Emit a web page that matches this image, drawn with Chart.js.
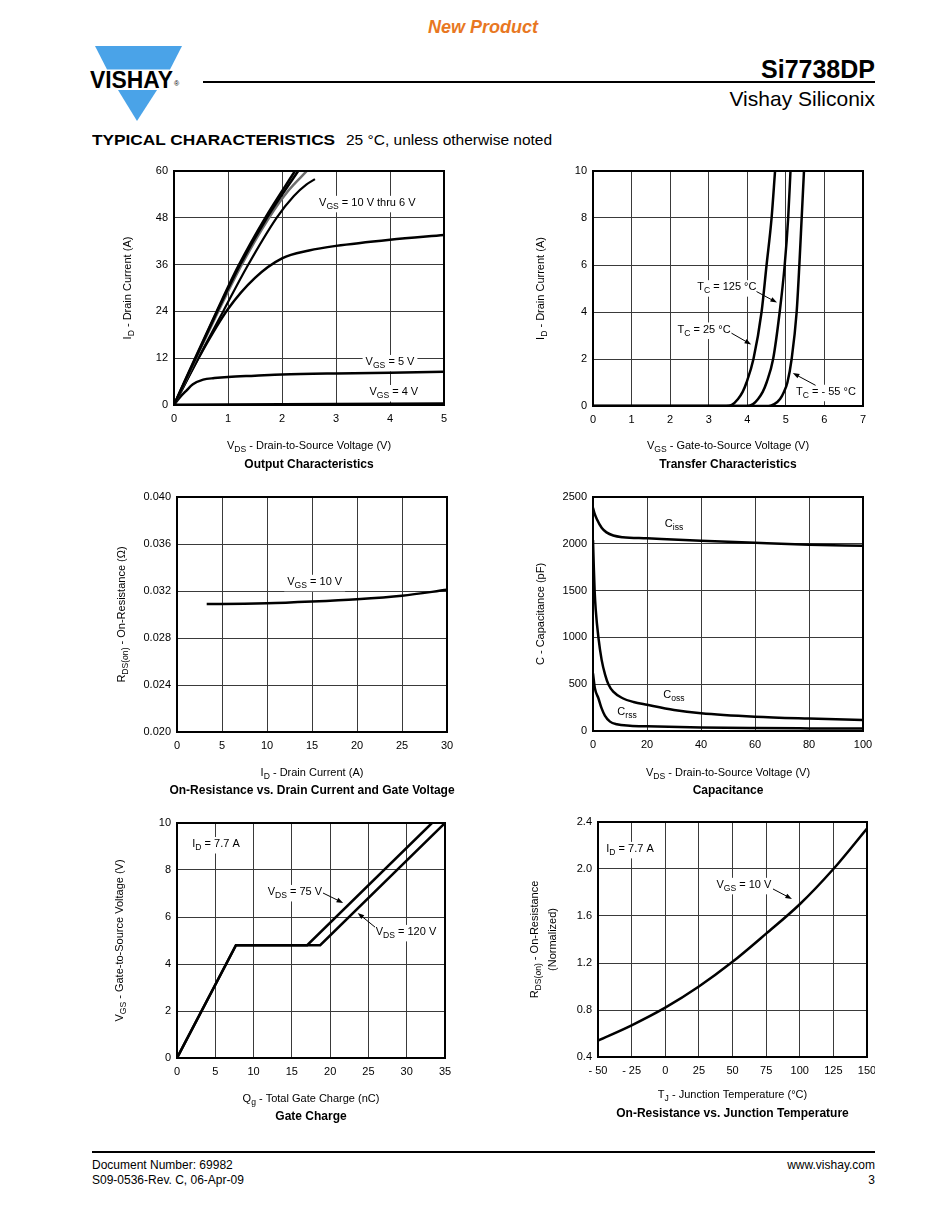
<!DOCTYPE html>
<html>
<head>
<meta charset="utf-8">
<script src="https://cdn.jsdelivr.net/npm/chart.js@4.4.1/dist/chart.umd.min.js"></script>
<style>
  body { margin: 0; background: #fff; }
  #page { position: relative; width: 950px; height: 1230px; overflow: hidden;
          font-family: 'Liberation Sans', Arial, sans-serif; color: #000; background: #fff; }
  .abs { position: absolute; white-space: nowrap; }
  canvas { position: absolute; }
</style>
</head>
<body>
<div id="page">
  <div class="abs" style="left:0;width:966px;top:16px;text-align:center;font-size:18px;font-weight:bold;font-style:italic;color:#e87722;line-height:22px">New Product</div>

  <svg class="abs" style="left:85px;top:40px" width="110" height="90" viewBox="85 40 110 90">
    <polygon points="95,46 182,46 170,69.5 107,69.5" fill="#4aa3e8"/>
    <polygon points="118,90 157,90 137,121" fill="#4aa3e8"/>
    <text x="90" y="88.3" font-family="Liberation Sans, Arial, sans-serif" font-weight="bold" font-size="24.5" textLength="83" lengthAdjust="spacingAndGlyphs">VISHAY</text>
    <text x="174" y="86" font-family="Liberation Sans, Arial, sans-serif" font-size="7">&#174;</text>
  </svg>

  <div class="abs" style="right:75px;top:56px;font-size:25px;font-weight:bold;line-height:26px">Si7738DP</div>
  <div class="abs" style="left:203px;top:81px;width:672px;height:1.5px;background:#000"></div>
  <div class="abs" style="right:75px;top:88px;font-size:21px;line-height:22px">Vishay Siliconix</div>

  <div class="abs" style="left:92px;top:131px;font-size:15px;line-height:18px;font-weight:bold;transform:scaleX(1.15);transform-origin:0 50%">TYPICAL CHARACTERISTICS</div>
  <div class="abs" style="left:346px;top:131px;font-size:15.5px;line-height:18px">25 °C, unless otherwise noted</div>

  <div class="abs" style="left:92px;top:1151px;width:783px;height:1.5px;background:#000"></div>
  <div class="abs" style="left:92px;top:1158px;font-size:12px;line-height:15px">Document Number: 69982<br>S09-0536-Rev. C, 06-Apr-09</div>
  <div class="abs" style="right:75px;top:1158px;font-size:12px;line-height:15px;text-align:right">www.vishay.com<br>3</div>
</div>

<script>
// ---------- Output characteristics: VDS (V) / ID (A) ----------
var out10x = [0, 0.39, 0.79, 1.19, 1.69, 2.24];
var out10y = [0, 12, 24, 35.6, 48, 60];
var out8x  = [0, 0.4, 0.8, 1.21, 1.72, 2.3];
var out8y  = [0, 12, 24, 35.6, 48, 60];
var out7x  = [0, 0.41, 0.82, 1.24, 1.76, 2.12, 2.46];
var out7y  = [0, 12, 24, 35.6, 48, 55, 60];
var out6x  = [0, 0.45, 0.91, 1.35, 1.9, 2.22, 2.45, 2.61];
var out6y  = [0, 12, 24, 35.4, 48, 53.6, 56.5, 57.9];
var out5x  = [0, 0.5, 1, 1.5, 2, 2.5, 3, 4, 5];
var out5y  = [0, 13.2, 24.6, 32.6, 37.6, 39.6, 40.8, 42.4, 43.6];
var out4x  = [0, 0.1, 0.23, 0.35, 0.54, 0.75, 1, 1.5, 2, 3, 4, 5];
var out4y  = [0, 1.8, 3.7, 5.3, 6.5, 6.9, 7.2, 7.5, 7.8, 8.1, 8.3, 8.5];
var out3x  = [0, 5];
var out3y  = [0, 0.3];

// ---------- Transfer characteristics: VGS (V) / ID (A) ----------
var trAx = [0, 3.45, 3.6, 3.76, 3.88, 3.98, 4.16, 4.37, 4.5, 4.63, 4.72];
var trAy = [0, 0, 0.05, 0.3, 0.6, 1, 2, 4, 6, 8, 10];
var trBx = [0, 4.0, 4.15, 4.28, 4.4, 4.5, 4.67, 4.84, 4.97, 5.06, 5.12];
var trBy = [0, 0, 0.08, 0.3, 0.6, 1, 2, 4, 6, 8, 10];
var trCx = [0, 4.55, 4.7, 4.85, 4.95, 5.04, 5.15, 5.28, 5.35, 5.41, 5.47];
var trCy = [0, 0, 0.08, 0.3, 0.6, 1, 2, 4, 6, 8, 10];

// ---------- On-resistance vs drain current: ID (A) / RDS(on) (ohm) ----------
var ronIdx = [3.3, 5, 10, 15, 20, 25, 30];
var ronIdy = [0.0309, 0.0309, 0.03095, 0.0311, 0.0313, 0.0316, 0.0321];

// ---------- Capacitance: VDS (V) / C (pF) ----------
var cissX = [0, 0.5, 1.4, 3.2, 5, 7.5, 11, 20, 40, 60, 80, 100];
var cissY = [2385, 2330, 2265, 2172, 2122, 2088, 2070, 2058, 2032, 2010, 1990, 1978];
var cossX = [0, 0.3, 0.6, 1, 2, 3.2, 4.5, 5.7, 7.5, 11, 15, 20, 30, 40, 60, 80, 100];
var cossY = [2040, 1750, 1500, 1300, 1000, 760, 600, 500, 420, 350, 310, 280, 225, 190, 153, 133, 118];
var crssX = [0, 0.7, 2, 3.2, 4.4, 6.3, 8.8, 13.7, 20, 40, 60, 80, 100];
var crssY = [616, 456, 350, 242, 165, 100, 72, 57, 50, 37, 31, 28, 26];

// ---------- Gate charge: Qg (nC) / VGS (V) ----------
var qg75x  = [0, 7.7, 17, 33.3];
var qg75y  = [0, 4.8, 4.8, 10];
var qg120x = [0, 7.7, 18.7, 35];
var qg120y = [0, 4.8, 4.8, 10];

// ---------- On-resistance vs junction temperature ----------
var tjX = [-50, -25, 0, 25, 50, 75, 100, 125, 150];
var tjY = [0.54, 0.67, 0.82, 1.0, 1.21, 1.45, 1.70, 2.0, 2.345];

var FAM = "'Liberation Sans', Arial, sans-serif";
var L = 90, T = 15, B = 75;

// text with _{subscript} parts
function rich(ctx, str, x, y, size, align, bold, bg) {
  var parts = [], re = /_\{([^}]*)\}/g, last = 0, m;
  while ((m = re.exec(str))) {
    if (m.index > last) parts.push([str.slice(last, m.index), 0]);
    parts.push([m[1], 1]);
    last = re.lastIndex;
  }
  if (last < str.length) parts.push([str.slice(last), 0]);
  var wt = bold ? 'bold ' : '', w = 0;
  parts.forEach(function (p) {
    ctx.font = wt + (p[1] ? size * 0.78 : size) + 'px ' + FAM;
    p.push(ctx.measureText(p[0]).width);
    w += p[2];
  });
  var cx = align === 'left' ? x : (align === 'right' ? x - w : x - w / 2);
  if (bg) {
    ctx.fillStyle = '#fff';
    ctx.fillRect(cx - 3, y - size * 0.65, w + 6, size * 1.5);
  }
  ctx.textBaseline = 'middle';
  ctx.textAlign = 'left';
  ctx.fillStyle = '#000';
  parts.forEach(function (p) {
    ctx.font = wt + (p[1] ? size * 0.78 : size) + 'px ' + FAM;
    ctx.fillText(p[0], cx, p[1] ? y + size * 0.32 : y);
    cx += p[2];
  });
}

function arrow(ctx, x1, y1, x2, y2) {
  var a = Math.atan2(y2 - y1, x2 - x1), h = 7;
  ctx.strokeStyle = '#000';
  ctx.lineWidth = 1;
  ctx.beginPath();
  ctx.moveTo(x1, y1);
  ctx.lineTo(x2 - Math.cos(a) * h * 0.8, y2 - Math.sin(a) * h * 0.8);
  ctx.stroke();
  ctx.fillStyle = '#000';
  ctx.beginPath();
  ctx.moveTo(x2, y2);
  ctx.lineTo(x2 - h * Math.cos(a - 0.35), y2 - h * Math.sin(a - 0.35));
  ctx.lineTo(x2 - h * Math.cos(a + 0.35), y2 - h * Math.sin(a + 0.35));
  ctx.closePath();
  ctx.fill();
}

var decor = {
  id: 'decor',
  beforeDatasetsDraw: function (chart, args, o) {
    var ctx = chart.ctx, xs = chart.scales.x, ys = chart.scales.y;
    ctx.save();
    (o.labels || []).forEach(function (l) {
      rich(ctx, l[0], xs.getPixelForValue(l[1]), ys.getPixelForValue(l[2]), 11, 'center', false, true);
    });
    (o.arrows || []).forEach(function (a) {
      arrow(ctx, xs.getPixelForValue(a[0]), ys.getPixelForValue(a[1]),
                 xs.getPixelForValue(a[2]), ys.getPixelForValue(a[3]));
    });
    ctx.restore();
  },
  afterDraw: function (chart, args, o) {
    var ctx = chart.ctx, a = chart.chartArea;
    ctx.save();
    ctx.strokeStyle = '#000';
    ctx.lineWidth = 2;
    ctx.strokeRect(a.left, a.top, a.right - a.left, a.bottom - a.top);
    var cx = (a.left + a.right) / 2, cy = (a.top + a.bottom) / 2;
    o.yTitle.forEach(function (t) {
      ctx.save();
      ctx.translate(a.left - t[1], cy);
      ctx.rotate(-Math.PI / 2);
      rich(ctx, t[0], 0, 0, 11, 'center');
      ctx.restore();
    });
    rich(ctx, o.xTitle, cx, a.bottom + o.xOff, 11, 'center');
    rich(ctx, o.title, cx, a.bottom + o.tOff, 12, 'center', true);
    ctx.restore();
  }
};
Chart.register(decor);

function pts(xs, ys) {
  return xs.map(function (x, i) { return { x: x, y: ys[i] }; });
}

function curve(xs, ys, color, width, straight) {
  return {
    data: pts(xs, ys),
    borderColor: color || '#000',
    borderWidth: width || 2.5,
    pointRadius: 0,
    fill: false,
    tension: straight ? 0 : 0.4,
    cubicInterpolationMode: straight ? 'default' : 'monotone'
  };
}

function makeChart(rect, R, datasets, sx, sy, deco) {
  var cv = document.createElement('canvas');
  cv.width = rect[2] + L + R;
  cv.height = rect[3] + T + B;
  cv.style.left = (rect[0] - L) + 'px';
  cv.style.top = (rect[1] - T) + 'px';
  document.getElementById('page').appendChild(cv);
  var tickFont = { size: 11, family: FAM };
  new Chart(cv.getContext('2d'), {
    type: 'line',
    data: { datasets: datasets },
    options: {
      responsive: false,
      animation: false,
      events: [],
      layout: { padding: { left: 0, top: T, right: R, bottom: 0 } },
      plugins: { legend: { display: false }, tooltip: { enabled: false }, decor: deco },
      scales: {
        x: {
          type: 'linear', min: sx[0], max: sx[1],
          ticks: { stepSize: sx[2], padding: 7, color: '#000', font: tickFont,
                   maxRotation: 0, autoSkip: false, callback: sx[3] || function (v) { return v; } },
          grid: { color: '#3a3a3a', lineWidth: 1, drawTicks: false },
          border: { display: false },
          afterFit: function (s) { s.height = B; s.paddingLeft = 0; s.paddingRight = 0; }
        },
        y: {
          type: 'linear', min: sy[0], max: sy[1],
          ticks: { stepSize: sy[2], padding: 6, color: '#000', font: tickFont,
                   autoSkip: false, callback: sy[3] || function (v) { return v; } },
          grid: { color: '#3a3a3a', lineWidth: 1, drawTicks: false },
          border: { display: false },
          afterFit: function (s) { s.width = L; s.paddingTop = 0; s.paddingBottom = 0; }
        }
      }
    }
  });
}

// Output Characteristics
makeChart([174, 171, 270, 234], 30, [
  curve(out10x, out10y), curve(out8x, out8y), curve(out7x, out7y, '#6e6e6e'),
  curve(out6x, out6y, '#000', 2.2), curve(out5x, out5y), curve(out4x, out4y),
  curve(out3x, out3y, '#000', 3, true)
], [0, 5, 1], [0, 60, 12], {
  yTitle: [['I_{D} - Drain Current (A)', 46]],
  xTitle: 'V_{DS} - Drain-to-Source Voltage (V)', xOff: 41,
  title: 'Output Characteristics', tOff: 60,
  labels: [['V_{GS} = 10 V thru 6 V', 3.58, 51.8], ['V_{GS} = 5 V', 4.0, 11.0], ['V_{GS} = 4 V', 4.07, 3.3]]
});

// Transfer Characteristics
makeChart([593, 171, 270, 235], 30, [
  curve(trAx, trAy), curve(trBx, trBy), curve(trCx, trCy)
], [0, 7, 1], [0, 10, 2], {
  yTitle: [['I_{D} - Drain Current (A)', 52]],
  xTitle: 'V_{GS} - Gate-to-Source Voltage (V)', xOff: 40,
  title: 'Transfer Characteristics', tOff: 59,
  labels: [['T_{C} = 125 °C', 3.47, 5.05], ['T_{C} = 25 °C', 2.88, 3.25], ['T_{C} = - 55 °C', 6.04, 0.6]],
  arrows: [[4.24, 4.87, 4.77, 4.4], [3.59, 3.1, 4.1, 2.62], [5.77, 0.88, 5.18, 1.4]]
});

// On-Resistance vs. Drain Current
makeChart([177, 497, 270, 235], 30, [
  curve(ronIdx, ronIdy)
], [0, 30, 5], [0.02, 0.04, 0.004, function (v) { return v.toFixed(3); }], {
  yTitle: [['R_{DS(on)} - On-Resistance (Ω)', 55]],
  xTitle: 'I_{D} - Drain Current (A)', xOff: 41,
  title: 'On-Resistance vs. Drain Current and Gate Voltage', tOff: 59,
  labels: [['V_{GS} = 10 V', 15.3, 0.03277]]
});

// Capacitance
makeChart([593, 497, 270, 234], 30, [
  curve(cissX, cissY), curve(cossX, cossY), curve(crssX, crssY)
], [0, 100, 20], [0, 2500, 500], {
  yTitle: [['C - Capacitance (pF)', 52]],
  xTitle: 'V_{DS} - Drain-to-Source Voltage (V)', xOff: 42,
  title: 'Capacitance', tOff: 60,
  labels: [['C_{iss}', 30, 2212], ['C_{oss}', 30, 380], ['C_{rss}', 12.6, 205]]
});

// Gate Charge
makeChart([177, 823, 268, 235], 30, [
  curve(qg75x, qg75y, '#000', 2.5, true), curve(qg120x, qg120y, '#000', 2.5, true)
], [0, 35, 5], [0, 10, 2], {
  yTitle: [['V_{GS} - Gate-to-Source Voltage (V)', 57]],
  xTitle: 'Q_{g} - Total Gate Charge (nC)', xOff: 41,
  title: 'Gate Charge', tOff: 59,
  labels: [['I_{D} = 7.7 A', 5.1, 9.1], ['V_{DS} = 75 V', 15.4, 7.06], ['V_{DS} = 120 V', 29.9, 5.36]],
  arrows: [[19.07, 7.02, 21.7, 6.6], [25.86, 5.57, 23.6, 6.17]]
});

// On-Resistance vs. Junction Temperature
makeChart([598, 822, 269, 235], 8, [
  curve(tjX, tjY)
], [-50, 150, 25, function (v) { return v < 0 ? '- ' + (-v) : '' + v; }],
   [0.4, 2.4, 0.4, function (v) { return v.toFixed(1); }], {
  yTitle: [['R_{DS(on)} - On-Resistance', 63], ['(Normalized)', 45]],
  xTitle: 'T_{J} - Junction Temperature (°C)', xOff: 38,
  title: 'On-Resistance vs. Junction Temperature', tOff: 57,
  labels: [['I_{D} = 7.7 A', -26.2, 2.17], ['V_{GS} = 10 V', 58.5, 1.864]],
  arrows: [[80.1, 1.83, 94.2, 1.745]]
});
</script>
</body>
</html>
